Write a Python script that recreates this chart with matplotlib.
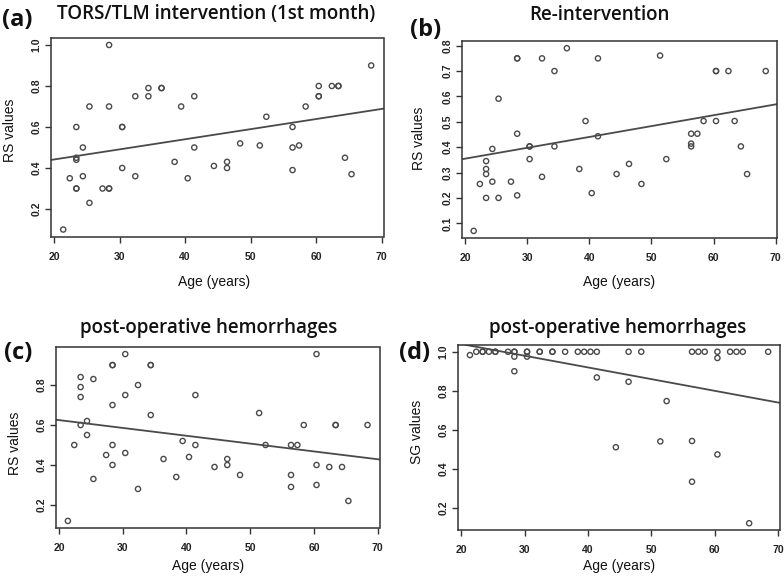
import matplotlib
matplotlib.use("Agg")
import matplotlib.pyplot as plt
import numpy as np

# ---------------- data ----------------
age_a = [21.4, 22.4, 23.4, 23.4, 23.4, 23.4, 23.4, 24.4, 24.4, 25.4, 25.4, 27.4,
         28.4, 28.4, 28.4, 28.4, 30.4, 30.4, 30.4, 32.4, 32.4, 34.4, 34.4, 36.4, 36.4,
         38.4, 39.4, 40.4, 41.4, 41.4, 44.4, 46.4, 46.4, 48.4, 51.4, 52.4,
         56.4, 56.4, 56.4, 57.4, 58.4, 60.4, 60.4, 60.4, 62.4, 63.4, 63.4, 64.4, 65.4, 68.4]
rs_a = [0.10, 0.35, 0.60, 0.45, 0.44, 0.30, 0.30, 0.50, 0.36, 0.70, 0.23, 0.30,
        1.00, 0.70, 0.30, 0.30, 0.60, 0.60, 0.40, 0.75, 0.36, 0.79, 0.75, 0.79, 0.79,
        0.43, 0.70, 0.35, 0.75, 0.50, 0.41, 0.43, 0.40, 0.52, 0.51, 0.65,
        0.60, 0.50, 0.39, 0.51, 0.70, 0.80, 0.75, 0.75, 0.80, 0.80, 0.80, 0.45, 0.37, 0.90]
fit_a = (0.343, 0.00493)   # intercept, slope

age_b = [21.4, 22.4, 23.4, 23.4, 23.4, 23.4, 24.4, 24.4, 25.4, 25.4, 27.4,
         28.4, 28.4, 28.4, 28.4, 30.4, 30.4, 30.4, 32.4, 32.4, 34.4, 34.4, 36.4,
         38.4, 39.4, 40.4, 41.4, 41.4, 44.4, 46.4, 48.4, 51.4, 52.4,
         56.4, 56.4, 56.4, 57.4, 58.4, 60.4, 60.4, 60.4, 62.4, 63.4, 64.4, 65.4, 68.4]
rs_b = [0.07, 0.255, 0.345, 0.314, 0.294, 0.20, 0.393, 0.264, 0.591, 0.20, 0.264,
        0.75, 0.75, 0.453, 0.21, 0.403, 0.403, 0.353, 0.75, 0.283, 0.70, 0.403, 0.79,
        0.314, 0.503, 0.219, 0.75, 0.443, 0.294, 0.334, 0.255, 0.761, 0.353,
        0.453, 0.414, 0.403, 0.453, 0.503, 0.70, 0.70, 0.503, 0.70, 0.503, 0.403, 0.294, 0.70]
fit_b = (0.269, 0.00428)

age_c = [21.4, 22.4, 23.4, 23.4, 23.4, 23.4, 24.4, 24.4, 25.4, 25.4, 27.4,
         28.4, 28.4, 28.4, 28.4, 28.4, 30.4, 30.4, 30.4, 32.4, 32.4, 34.4, 34.4, 34.4,
         36.4, 38.4, 39.4, 40.4, 41.4, 41.4, 44.4, 46.4, 46.4, 48.4, 51.4, 52.4,
         56.4, 56.4, 56.4, 57.4, 58.4, 60.4, 60.4, 60.4, 62.4, 63.4, 63.4, 64.4, 65.4, 68.4]
rs_c = [0.12, 0.50, 0.84, 0.79, 0.74, 0.60, 0.62, 0.55, 0.83, 0.33, 0.45,
        0.90, 0.90, 0.70, 0.50, 0.40, 0.955, 0.75, 0.46, 0.80, 0.28, 0.90, 0.90, 0.65,
        0.43, 0.34, 0.52, 0.44, 0.75, 0.50, 0.39, 0.43, 0.40, 0.35, 0.66, 0.50,
        0.50, 0.35, 0.29, 0.50, 0.60, 0.955, 0.40, 0.30, 0.39, 0.60, 0.60, 0.39, 0.22, 0.60]
fit_c = (0.703, -0.00392)

age_d = [21.4, 22.4, 23.4, 23.4, 24.4, 25.4, 25.4, 27.4, 28.4, 28.4, 28.4, 28.4,
         30.4, 30.4, 30.4, 32.4, 32.4, 34.4, 34.4, 36.4, 38.4, 39.4, 40.4, 41.4, 41.4,
         44.4, 46.4, 46.4, 48.4, 51.4, 52.4, 56.4, 56.4, 56.4, 57.4, 58.4,
         60.4, 60.4, 60.4, 62.4, 63.4, 64.4, 65.4, 68.4]
sg_d = [0.983, 1.0, 1.0, 1.0, 1.0, 1.0, 1.0, 1.0, 1.0, 1.0, 0.975, 0.90,
        1.0, 1.0, 0.975, 1.0, 1.0, 1.0, 1.0, 1.0, 1.0, 1.0, 1.0, 1.0, 0.868,
        0.51, 1.0, 0.846, 1.0, 0.54, 0.747, 1.0, 0.542, 0.333, 1.0, 1.0,
        1.0, 0.968, 0.473, 1.0, 1.0, 1.0, 0.12, 1.0]
fit_d = (1.160, -0.00601)

x_ticks = [20, 30, 40, 50, 60, 70]
y_ticks_a = [0.2, 0.4, 0.6, 0.8, 1.0]
y_ticks_b = [0.1, 0.2, 0.3, 0.4, 0.5, 0.6, 0.7, 0.8]
y_ticks_c = [0.2, 0.4, 0.6, 0.8]
y_ticks_d = [0.2, 0.4, 0.6, 0.8, 1.0]

panels = [
    dict(x=age_a, y=rs_a, fit=fit_a, yt=y_ticks_a, box=(50.9, 383.5, 37.6, 236.9),
         letter="(a)", lpos=(17, 20), title="TORS/TLM intervention (1st month)", tpos=(216, 14),
         ylab="RS values", ylpos=(10, 130), xlpos=(214, 282)),
    dict(x=age_b, y=rs_b, fit=fit_b, yt=y_ticks_b, box=(462.0, 777.4, 40.9, 238.2),
         letter="(b)", lpos=(426, 30), title="Re-intervention", tpos=(599, 15),
         ylab="RS values", ylpos=(419, 138), xlpos=(619, 282)),
    dict(x=age_c, y=rs_c, fit=fit_c, yt=y_ticks_c, box=(55.9, 379.5, 347.4, 527.6),
         letter="(c)", lpos=(18, 353), title="post-operative hemorrhages", tpos=(209, 328),
         ylab="RS values", ylpos=(15, 443), xlpos=(208, 566)),
    dict(x=age_d, y=sg_d, fit=fit_d, yt=y_ticks_d, box=(458.0, 780.1, 344.9, 530.1),
         letter="(d)", lpos=(415, 353), title="post-operative hemorrhages", tpos=(618, 328),
         ylab="SG values", ylpos=(417, 432), xlpos=(619, 566)),
]

W, H = 784, 579
fig = plt.figure(figsize=(W / 100, H / 100), dpi=100)
fig.patch.set_facecolor("white")

title_font = dict(family=["Open Sans", "DejaVu Sans"], fontweight="semibold")
lab_font = dict(family=["Liberation Sans", "DejaVu Sans"])
col = "#4a4a4a"

for p in panels:
    l, r, t, b = p["box"]
    ax = fig.add_axes([l / W, 1 - b / H, (r - l) / W, (b - t) / H])
    x = np.array(p["x"]); y = np.array(p["y"])
    xs = x.max() - x.min(); ys = y.max() - y.min()
    ax.set_xlim(x.min() - 0.04 * xs, x.max() + 0.04 * xs)
    ax.set_ylim(y.min() - 0.04 * ys, y.max() + 0.04 * ys)
    ax.scatter(x, y, s=14, facecolors="none", edgecolors=col, linewidths=1.0, zorder=3)
    a0, a1 = p["fit"]
    ax.axline((0, a0), slope=a1, color=col, lw=1.3, zorder=2)
    ax.set_xticks(x_ticks)
    ax.set_xticklabels([str(v) for v in x_ticks])
    ax.set_yticks(p["yt"])
    ax.set_yticklabels([f"{v:.1f}" for v in p["yt"]], rotation=90, va="center")
    ax.tick_params(axis="both", direction="out", length=4, width=1, color="#333333",
                   labelsize=7.5, labelcolor="#222222")
    ax.tick_params(axis="x", pad=7)
    ax.tick_params(axis="y", pad=3)
    for lab in ax.get_xticklabels() + ax.get_yticklabels():
        lab.set_family(["Liberation Sans", "DejaVu Sans"])
        lab.set_fontweight("bold")
    for s in ax.spines.values():
        s.set_color("#333333")
        s.set_linewidth(1.1)

    fig.text(p["tpos"][0] / W, 1 - p["tpos"][1] / H, p["title"], ha="center", va="center",
             fontsize=13.5, color="#111111", **title_font)
    fig.text(p["lpos"][0] / W, 1 - p["lpos"][1] / H, p["letter"], ha="center", va="center",
             fontsize=17, fontweight="bold", color="#111111",
             family=["Open Sans", "DejaVu Sans"])
    fig.text(p["ylpos"][0] / W, 1 - p["ylpos"][1] / H, p["ylab"], ha="center", va="center",
             rotation=90, fontsize=10, color="#111111", **lab_font)
    fig.text(p["xlpos"][0] / W, 1 - p["xlpos"][1] / H, "Age (years)", ha="center", va="center",
             fontsize=10, color="#111111", **lab_font)

fig.savefig("out.png", dpi=100, facecolor="white")
